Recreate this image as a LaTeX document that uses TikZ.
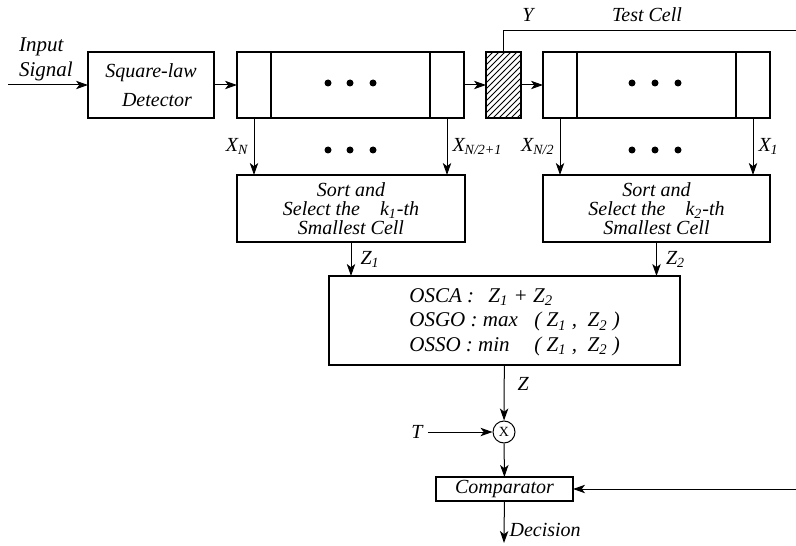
\documentclass[tikz,border=0pt]{standalone}
\usepackage{fontspec}
\setmainfont{Liberation Serif}
\usepackage{tikz}
\usetikzlibrary{arrows.meta, positioning, patterns}

\tikzset{
  box/.style={draw, line width=0.6pt, inner sep=0pt, outer sep=0pt},
  cell/.style={box, minimum height=33pt},
  arr/.style={line width=0.5pt, -{Stealth[length=6pt, width=4.2pt, inset=1.6pt]}},
  lab/.style={inner sep=2.5pt},
}

\begin{document}
\begin{tikzpicture}[x=0.5pt, y=-0.5pt, font=\itshape]
    \useasboundingbox (0,0) rectangle (796,545);

    % Input and detector
    \coordinate (in) at (8,85);
    \node[anchor=west, align=left, font=\itshape\fontsize{10.5}{12.5}\selectfont] (insig) at (12,59) {Input\\Signal};
    \node[box, minimum width=63pt, minimum height=33pt, align=center] (det) at (151,85) {Square-law\\[2.5pt]\hspace{6pt}Detector};

    % Left half of the delay line
    \node[cell, minimum width=17pt] (nL1) at (254,85) {};
    \node[cell, minimum width=79.5pt, right=0pt of nL1] (nLm) {};
    \node[cell, minimum width=17pt, right=0pt of nLm] (nLn) {};

    % Test cell
    \node[cell, minimum width=17.5pt, pattern=north east lines] (hatch) at (503.5,85) {};

    % Right half of the delay line
    \node[cell, minimum width=17pt] (nR1) at (560,85) {};
    \node[cell, minimum width=79.5pt, right=0pt of nR1] (nRm) {};
    \node[cell, minimum width=17pt, right=0pt of nRm] (nRn) {};

    % Dots
    \foreach \x in {328,350,373,632,655,678}
      \foreach \y in {83,150}
        \fill (\x,\y) circle (1.75pt);

    % Sort and select
    \node[box, minimum width=114pt, minimum height=33.5pt, align=center,
          font=\itshape\fontsize{10}{9.6}\selectfont] (sL) at (351,208.5)
          {Sort and\\Select the\quad k\textsubscript{1}-th\\Smallest Cell};
    \node[box, minimum width=113.5pt, minimum height=33.5pt, align=center,
          font=\itshape\fontsize{10}{9.6}\selectfont] (sR) at (656.5,208.5)
          {Sort and\\Select the\quad k\textsubscript{2}-th\\Smallest Cell};

    % Combining rules
    \node[box, minimum width=175.5pt, minimum height=44.5pt] (osb) at (504.5,320.5) {};
    \node[anchor=north west, inner sep=0pt, align=left,
          font=\itshape\fontsize{10.5}{12.25}\selectfont] (rules) at (409,288)
          {\makebox[39.5pt][l]{OSCA :}Z\textsubscript{1} + Z\textsubscript{2}\\
           \makebox[62.5pt][l]{OSGO : max}( Z\textsubscript{1} ,\ \ Z\textsubscript{2} )\\
           \makebox[62.5pt][l]{OSSO : min}( Z\textsubscript{1} ,\ \ Z\textsubscript{2} )};

    % Threshold and comparator
    \node[draw, circle, line width=0.5pt, minimum size=11pt, inner sep=0pt,
          font=\upshape\scriptsize] (mult) at (504,432) {X};
    \node[lab] (T) at (417,432) {T};
    \node[box, minimum width=68.5pt, minimum height=12pt] (cmp) at (504.5,489) {Comparator};
    \coordinate (dec) at (504,543);

    % Labels on top
    \node (ylab) at (528,15) {Y};
    \node (tclab) at (647,15) {Test Cell};
    \coordinate (tc) at (796,31);
    \coordinate (cr) at (796,489);

    % Connections
    \draw[arr] (in) -- (det);
    \draw[arr] (det) -- (nL1);
    \draw[arr] (nLn) -- (hatch);
    \draw[arr] (hatch) -- (nR1);
    \draw[arr] (nL1) -- (nL1 |- sL.north) node[lab, midway, left] {X\textsubscript{N}};
    \draw[arr] (nLn) -- (nLn |- sL.north) node[lab, midway, right] {X\textsubscript{N/2+1}};
    \draw[arr] (nR1) -- (nR1 |- sR.north) node[lab, midway, left] {X\textsubscript{N/2}};
    \draw[arr] (nRn) -- (nRn |- sR.north) node[lab, midway, right] {X\textsubscript{1}};
    \draw[arr] (sL) -- (sL |- osb.north) node[lab, midway, right=2pt] {Z\textsubscript{1}};
    \draw[arr] (sR) -- (sR |- osb.north) node[lab, midway, right=2pt] {Z\textsubscript{2}};
    \draw[arr] (osb) -- (mult) node[lab, pos=.35, right=4pt] {Z};
    \draw[arr] (T) -- (mult);
    \draw[arr] (mult) -- (cmp);
    \draw[arr] (cmp) -- (dec) node[lab, pos=.7, right] {Decision};
    \draw[line width=0.5pt] (hatch) |- (tc);
    \draw[arr] (cr) -- (cmp);
\end{tikzpicture}
\end{document}
